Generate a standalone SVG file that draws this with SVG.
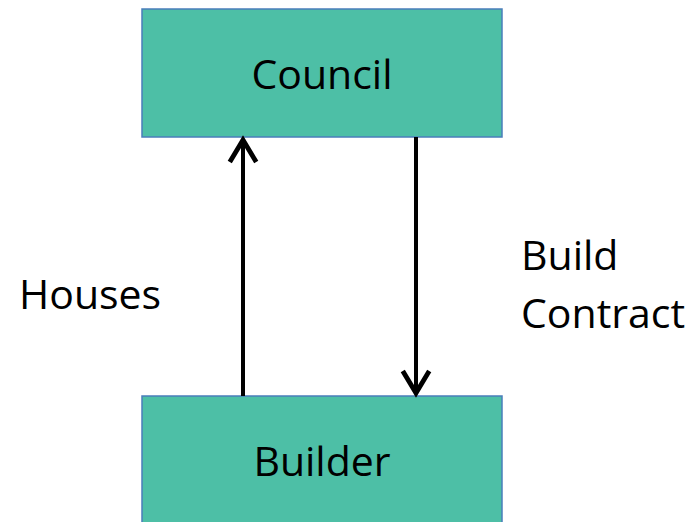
<svg xmlns="http://www.w3.org/2000/svg" width="694" height="522" viewBox="0 0 694 522">
<style>
.box{fill:#4DBFA6;stroke:#4A7EBB;stroke-width:1.5}
.t{font-family:"Open Sans","Liberation Sans",sans-serif;font-size:41px;fill:#000}
.c{stroke:#000;stroke-width:4;fill:none}
</style>
<defs>
<marker id="ah" markerWidth="8" markerHeight="8" refX="6" refY="4" orient="auto" markerUnits="strokeWidth" viewBox="0 0 8 8">
<path d="M1,1 L6,4 L1,7" fill="none" stroke="#000" stroke-width="1.2" stroke-linecap="square"/>
</marker>
</defs>
<g id="council">
<rect class="box" x="142" y="9" width="360" height="128"/>
<text class="t" x="322" y="89" text-anchor="middle">Council</text>
</g>
<g id="builder">
<rect class="box" x="142" y="396" width="360" height="140"/>
<text class="t" x="322" y="476" text-anchor="middle">Builder</text>
</g>
<g id="connectors">
<line class="c" x1="243" y1="396" x2="243" y2="140" marker-end="url(#ah)"/>
<line class="c" x1="416" y1="137" x2="416" y2="393" marker-end="url(#ah)"/>
<text class="t" x="19" y="309">Houses</text>
<text class="t" x="521" y="270">Build</text>
<text class="t" x="521" y="328">Contract</text>
</g>
</svg>
